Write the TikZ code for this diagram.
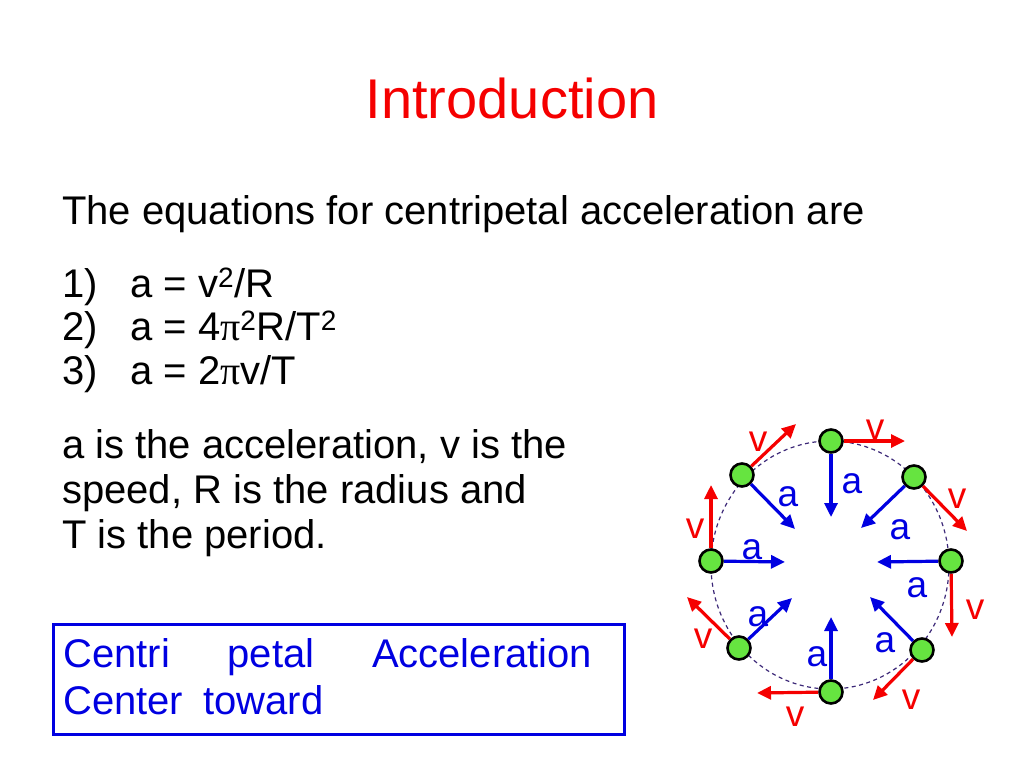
\documentclass[tikz,border=0pt]{standalone}
\usepackage{fontspec}
\setmainfont{Liberation Sans}
\newfontfamily\pifont{Liberation Serif}
\usetikzlibrary{arrows.meta}
\definecolor{slidered}{RGB}{245,0,0}
\definecolor{slideblue}{RGB}{0,0,225}
\definecolor{ballgreen}{RGB}{102,228,64}
\definecolor{orbit}{RGB}{60,40,120}
\tikzset{txt/.style={anchor=base west,inner sep=0pt,font=\fontsize{40}{40}\selectfont}}
\tikzset{ball/.style={circle,draw=black,line width=2.6pt,fill=ballgreen,minimum size=23pt,inner sep=0pt}}
\tikzset{acc/.style={-{Triangle[length=14pt,width=13pt]},line width=3.2pt,draw=slideblue}}
\tikzset{vel/.style={-{Triangle[length=14pt,width=13pt]},line width=3.2pt,draw=slidered}}
\tikzset{lbl/.style={inner sep=0pt,font=\fontsize{37}{37}\selectfont}}
\newcommand{\pisym}{{\pifont π}}

\begin{document}
\begin{tikzpicture}[x=1pt,y=-1pt]
  \useasboundingbox (0,0) rectangle (1024,768);
  \node[inner sep=0pt,anchor=base,text=slidered,font=\fontsize{56}{56}\selectfont] (title) at (512,118) {Introduction};
  \node[txt] (intro) at (62,224) {The equations for centripetal acceleration are};
  \node[txt] (n1) at (62,297) {1)};
  \node[txt] (n2) at (62,340) {2)};
  \node[txt] (n3) at (62,384) {3)};
  \node[txt] (eq1) at (130,297) {a = v\textsuperscript{2}/R};
  \node[txt] (eq2) at (130,340) {a = 4\pisym\textsuperscript{2}R/T\textsuperscript{2}};
  \node[txt] (eq3) at (130,384) {a = 2\pisym v/T};
  \node[txt] (def1) at (62,458) {a is the acceleration, v is the};
  \node[txt] (def2) at (62,503) {speed, R is the radius and};
  \node[txt] (def3) at (62,548) {T is the period.};
  % framed note
  \node[draw=slideblue,line width=2.5pt,anchor=north west,minimum width=571pt,minimum height=110pt] (note) at (52,623) {};
  \node[txt,text=slideblue] (note1) at (63,667) {\makebox[529pt][s]{Centri petal Acceleration}};
  \node[txt,text=slideblue] (note2) at (63,714) {Center\hspace{20pt}toward};
  % orbit
  \draw[orbit,dash pattern=on 4pt off 3.5pt,line width=1.2pt] (830,565) ellipse (119 and 124);
  \foreach \name/\pos/\apos/\vpos/\alab/\vlab in {
    T/{831,441}/{831,517}/{905,441}/{852,484}/{875,430},
    UR/{914,477}/{861,528}/{967,531}/{900,530}/{957,499},
    R/{951,561}/{877,562}/{952,637}/{917,588}/{975,610},
    LR/{922,650}/{870,597}/{873,700}/{885,643}/{911,700},
    B/{831,692}/{831,617}/{757,693}/{817,657}/{795,717},
    LL/{739,648}/{792,598}/{687,597}/{758,617}/{703,639},
    L/{711,561}/{785,562}/{711,485}/{752,550}/{695,529},
    UL/{742,475}/{795,529}/{796,424}/{788,497}/{758,442}}
  {
    \node[ball] (\name) at (\pos) {};
    \coordinate (a\name) at (\apos);
    \coordinate (v\name) at (\vpos);
    \draw[acc] (\name) -- (a\name);
    \draw[vel] (\name) -- (v\name);
    \node[lbl,text=slideblue] (la\name) at (\alab) {a};
    \node[lbl,text=slidered] (lv\name) at (\vlab) {v};
  }
\end{tikzpicture}
\end{document}
